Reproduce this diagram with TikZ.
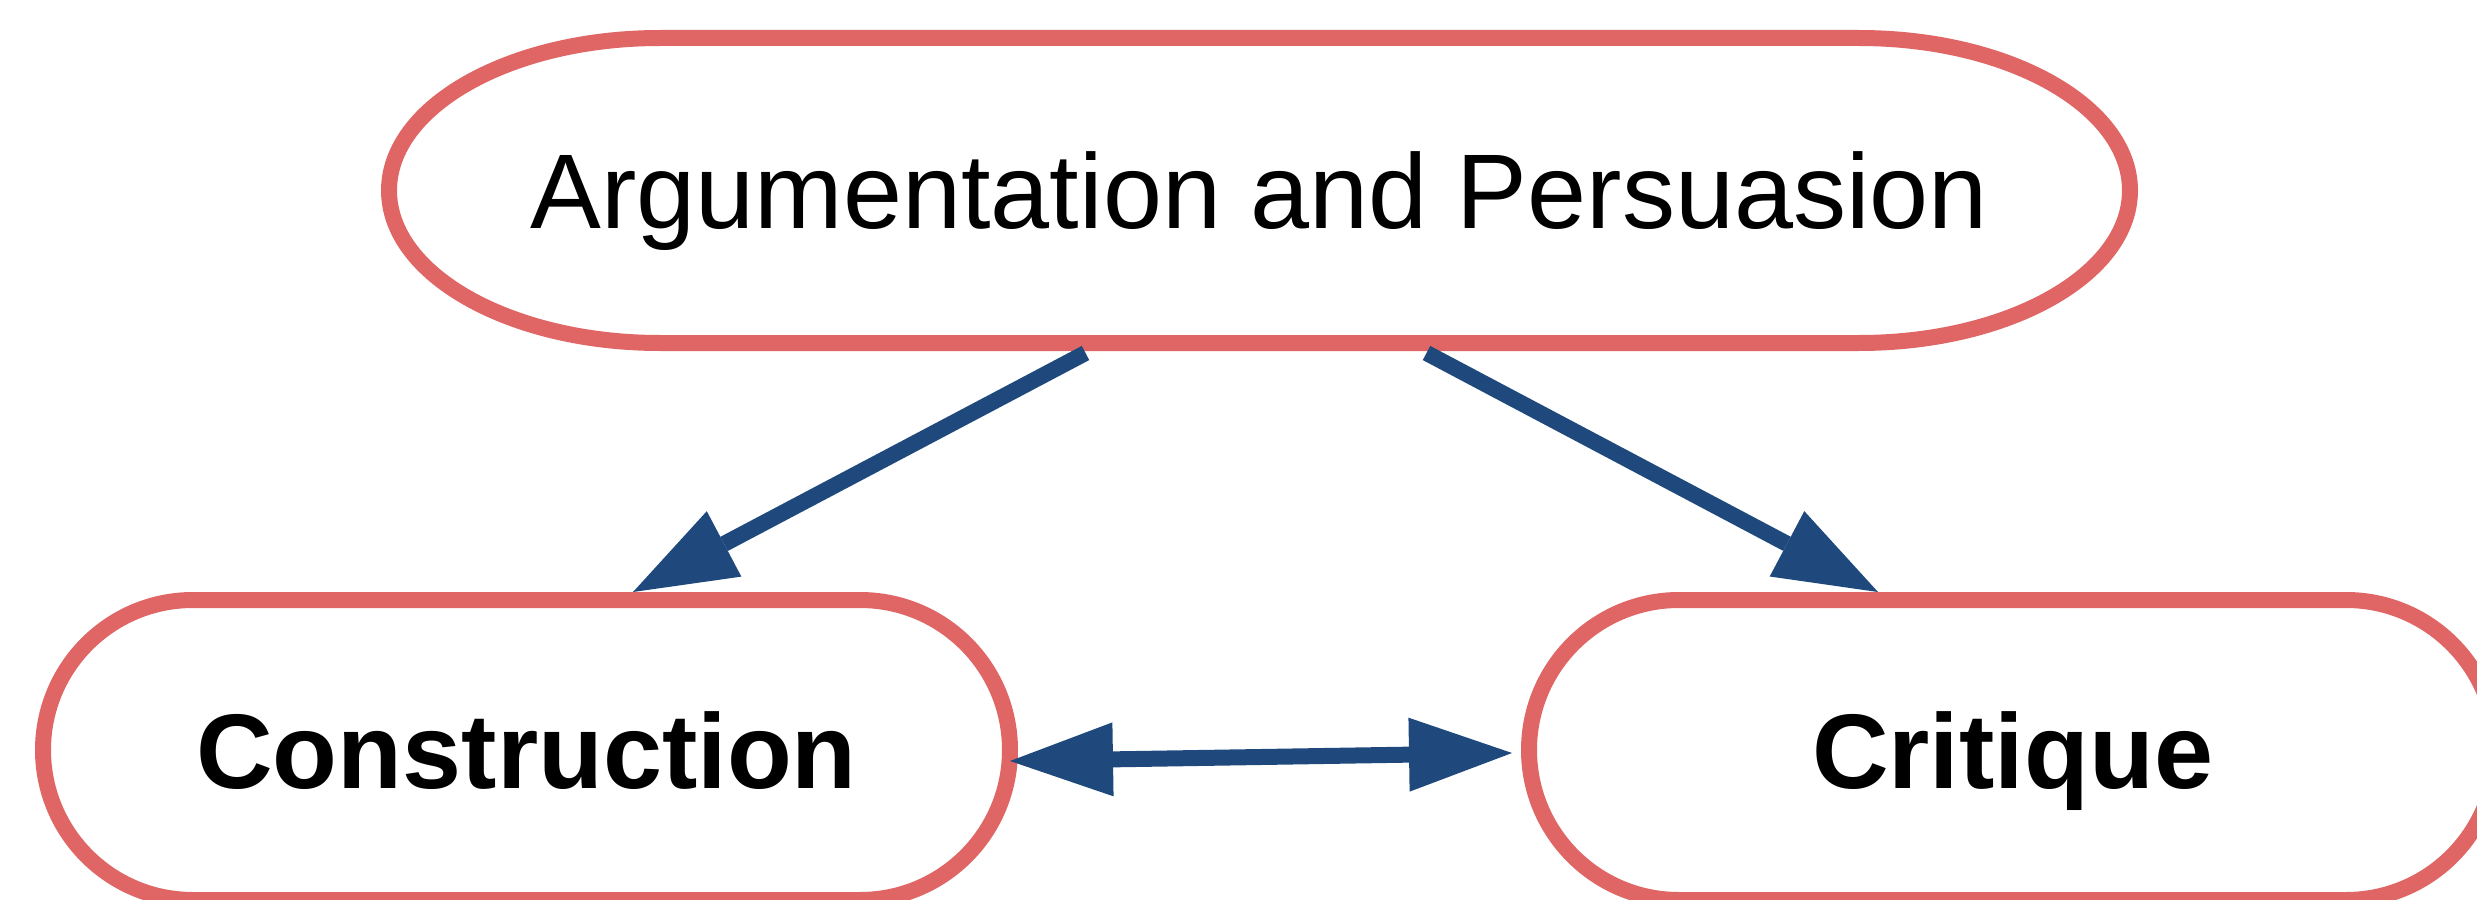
\documentclass[tikz,border=0pt]{standalone}
\usepackage{fontspec}
\setmainfont{Liberation Sans}
\usetikzlibrary{shapes.misc,arrows.meta}

\definecolor{boxred}{HTML}{E06666}
\definecolor{arrowblue}{HTML}{1F497D}

\begin{document}
\begin{tikzpicture}[x=0.1mm, y=0.1mm,
	>={Triangle[length=10.3mm, width=7.4mm, line width=0pt]},
	border/.style={draw=boxred, line width=1.6mm},
	txt/.style={font=\fontsize{30.2pt}{36pt}\selectfont, text depth=0pt},
	pill/.style={border, txt, rounded rectangle, minimum width=96.7mm, minimum height=30mm, inner sep=0pt},
	link/.style={draw=arrowblue, fill=arrowblue, line width=1.6mm, ->}]
	\useasboundingbox (0,0) rectangle (2477,899);

	% top oval, ends are half ellipses
	\node [txt, minimum width=174.1mm, minimum height=30.5mm, inner sep=0pt, outer sep=0pt] (arg) at (1259.5,708.5) {Argumentation and Persuasion};
	\draw [border] ([xshift=27.1mm]arg.north west) -- ([xshift=-27.1mm]arg.north east)
		arc [start angle=90, end angle=-90, x radius=27.1mm, y radius=15.25mm]
		-- ([xshift=27.1mm]arg.south west)
		arc [start angle=270, end angle=90, x radius=27.1mm, y radius=15.25mm] -- cycle;

	\node [pill] (cons) at (526.5,149) {\bfseries Construction};
	\node [pill] (crit) at (2012.5,149) {\bfseries Critique};

	\draw [link] ([shift={(-17.4mm,-1mm)}]arg.south) -- ([xshift=10.65mm]cons.north);
	\draw [link] ([shift={(16.7mm,-1mm)}]arg.south) -- ([xshift=-13.45mm]crit.north);
%	\draw [link] (cons) -- (crit);
	\draw [link, <->] ([shift={(-0.8mm,-1.1mm)}]cons.east) -- ([shift={(-0.9mm,-0.3mm)}]crit.west);

\end{tikzpicture}
\end{document}
